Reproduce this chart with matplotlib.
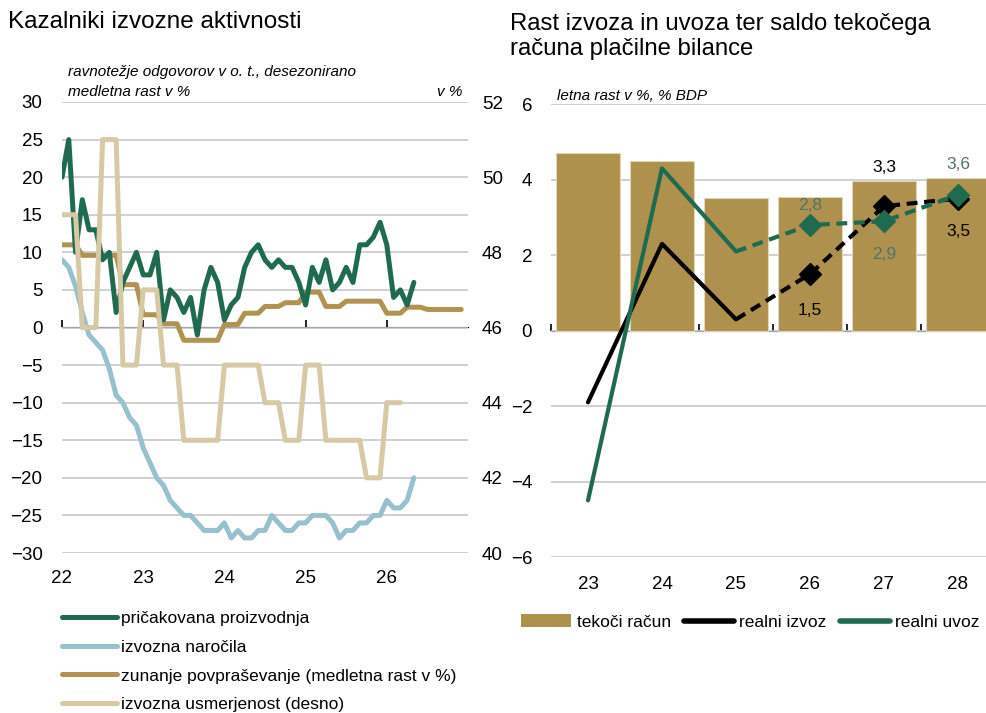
import matplotlib
matplotlib.use('Agg')
import matplotlib.pyplot as plt
from matplotlib.patches import Patch
from matplotlib.lines import Line2D
import numpy as np

plt.rcParams['font.family'] = ['Liberation Sans', 'DejaVu Sans']

# ---- levi graf: mesecni podatki od jan 2022 ----
pricakovana_proizvodnja = [20, 25, 10, 17, 13, 13, 9, 10, 2, 6, 8, 10, 7, 7, 10, 1, 5, 4, 2, 4,
                           -1, 5, 8, 6, 1, 3, 4, 8, 10, 11, 9, 8, 9, 8, 8, 6, 3, 8, 6, 9,
                           5, 6, 8, 6, 11, 11, 12, 14, 11, 4, 5, 3, 6]
izvozna_narocila = [9, 8, 5.5, 2, -1, -2, -3, -5.5, -9, -10, -12, -13, -16, -18, -20, -21, -23, -24, -25, -25,
                    -26, -27, -27, -27, -26, -28, -27, -28, -28, -27, -27, -25, -26, -27, -27, -26, -26, -25, -25, -25,
                    -26, -28, -27, -27, -26, -26, -25, -25, -23, -24, -24, -23, -20]
zunanje_povprasevanje = [11, 11, 11, 9.6, 9.6, 9.6, 9.6, 9.6, 9.6, 5.7, 5.7, 5.7, 1.7, 1.7, 1.7,
                         0.5, 0.5, 0.5, -1.7, -1.7, -1.7, -1.7, -1.7, -1.7, 0.4, 0.4, 0.4, 1.9, 1.9, 1.9,
                         2.8, 2.8, 2.8, 3.3, 3.3, 3.3, 4.7, 4.7, 4.7, 2.8, 2.8, 2.8, 3.5, 3.5, 3.5,
                         3.5, 3.5, 3.5, 1.9, 1.9, 1.9, 2.7, 2.7, 2.7, 2.4, 2.4, 2.4, 2.4, 2.4, 2.4]
izvozna_usmerjenost = [49, 49, 49, 46, 46, 46, 51, 51, 51, 45, 45, 45, 47, 47, 47, 45, 45, 45,
                       43, 43, 43, 43, 43, 43, 45, 45, 45, 45, 45, 45, 44, 44, 44, 43, 43, 43,
                       45, 45, 45, 43, 43, 43, 43, 43, 43, 42, 42, 42, 44, 44, 44]
leta_levo = [22, 23, 24, 25, 26]

# ---- desni graf: letni podatki ----
leta = [23, 24, 25, 26, 27, 28]
tekoci_racun = [4.72, 4.51, 3.52, 3.53, 3.97, 4.04]
realni_izvoz = [-1.9, 2.3, 0.3, 1.5, 3.3, 3.5]
realni_uvoz = [-4.5, 4.3, 2.1, 2.8, 2.9, 3.6]

c_green = '#1E6B4F'
c_blue = '#97C1CF'
c_brown = '#B09350'
c_beige = '#D8C9A5'
c_bar = '#AF914E'
c_grid = '#C8C8C8'
c_lab_green = '#4F7566'

W, H = 987, 713
fig = plt.figure(figsize=(9.87, 7.13), dpi=100)


def box(l, t, r, b):
    return [l / W, 1 - b / H, (r - l) / W, (b - t) / H]


def mesecno(vals):
    return 22 + np.arange(len(vals)) / 12


# ================= levi graf =================
ax = fig.add_axes(box(62, 102, 468, 553))
ax.set_xlim(22, 27)
ax.set_ylim(-30, 30)
ax.set_yticks(range(-30, 31, 5))
ax.grid(axis='y', color=c_grid, lw=1.2)
ax.set_axisbelow(True)
for s in ax.spines.values():
    s.set_visible(False)
ax.tick_params(axis='y', length=0, pad=14, labelsize=13.5)
ax.set_xticks(leta_levo)
ax.set_xticklabels([str(v) for v in leta_levo])
ax.tick_params(axis='x', length=0, pad=12, labelsize=13.5)

sec = ax.secondary_xaxis(0.5)
sec.set_xticks(leta_levo, labels=[''] * len(leta_levo))
sec.tick_params(axis='x', direction='out', length=5, width=1.2)
sec.spines['bottom'].set_linewidth(1.2)

l_brown, = ax.plot(mesecno(zunanje_povprasevanje), zunanje_povprasevanje, color=c_brown, lw=3.6,
                   solid_capstyle='round', solid_joinstyle='round', zorder=3)
l_blue, = ax.plot(mesecno(izvozna_narocila), izvozna_narocila, color=c_blue, lw=3.6,
                  solid_capstyle='round', solid_joinstyle='round', zorder=3)
l_green, = ax.plot(mesecno(pricakovana_proizvodnja), pricakovana_proizvodnja, color=c_green, lw=3.6,
                   solid_capstyle='round', solid_joinstyle='round', zorder=4)

ax2 = ax.twinx()
ax2.set_ylim(40, 52)
ax2.set_yticks(range(40, 53, 2))
for s in ax2.spines.values():
    s.set_visible(False)
ax2.tick_params(axis='y', length=0, pad=10, labelsize=13.5)
l_beige, = ax2.plot(mesecno(izvozna_usmerjenost), izvozna_usmerjenost, color=c_beige, lw=3.6,
                    solid_capstyle='round', solid_joinstyle='round')

fig.text(8 / W, 1 - 22 / H, 'Kazalniki izvozne aktivnosti', fontsize=17.5, va='center', ha='left')
fig.text(68 / W, 1 - 72 / H, 'ravnotežje odgovorov v o. t., desezonirano', style='italic',
         fontsize=11, va='center', ha='left')
fig.text(68 / W, 1 - 92 / H, 'medletna rast v %', style='italic', fontsize=11, va='center', ha='left')
fig.text(462 / W, 1 - 92 / H, 'v %', style='italic', fontsize=11, va='center', ha='right')

fig.legend([l_green, l_blue, l_brown, l_beige],
           ['pričakovana proizvodnja', 'izvozna naročila',
            'zunanje povpraševanje (medletna rast v %)', 'izvozna usmerjenost (desno)'],
           loc='upper left', bbox_to_anchor=(62 / W, 1 - 611 / H), frameon=False, fontsize=12.5,
           handlelength=3.15, handletextpad=0.25, labelspacing=0.78, borderpad=0, borderaxespad=0)

# ================= desni graf =================
axr = fig.add_axes(box(551, 104.3, 995, 557))
axr.set_xlim(22.5, 28.5)
axr.set_ylim(-6, 6)
axr.set_yticks(range(-6, 7, 2))
axr.grid(axis='y', color=c_grid, lw=1.2)
axr.set_axisbelow(True)
for s in axr.spines.values():
    s.set_visible(False)
axr.tick_params(axis='y', length=0, pad=13.5, labelsize=13.5)
axr.set_xticks(leta)
axr.set_xticklabels([str(v) for v in leta])
axr.tick_params(axis='x', length=0, pad=14, labelsize=13.5)

sec2 = axr.secondary_xaxis(0.5)
sec2.set_xticks([v - 0.5 for v in leta], labels=[''] * len(leta))
sec2.tick_params(axis='x', direction='out', length=5, width=1.2)
sec2.spines['bottom'].set_linewidth(1.2)

axr.bar(leta, tekoci_racun, width=0.87, color=c_bar, edgecolor='#E2D6BA', linewidth=0.8, zorder=2)

axr.plot(leta[:3], realni_izvoz[:3], color='black', lw=3, solid_capstyle='round', zorder=4)
axr.plot(leta[2:], realni_izvoz[2:], color='black', lw=3, ls=(0, (2.6, 1.6)), marker='D',
         markersize=11, markevery=[1, 2, 3], zorder=4)
axr.plot(leta[:3], realni_uvoz[:3], color=c_green, lw=3, solid_capstyle='round', zorder=5)
axr.plot(leta[2:], realni_uvoz[2:], color=c_green, lw=3, ls=(0, (2.6, 1.6)), marker='D',
         markersize=11, markevery=[1, 2, 3], zorder=5)

# oznake vrednosti (odmik v tockah)
odmik_izvoz = [-26, 28, -24]
odmik_uvoz = [14, -24, 22]
for i, (x, y) in enumerate(zip(leta[3:], realni_izvoz[3:])):
    axr.annotate(f'{y:.1f}'.replace('.', ','), (x, y), xytext=(0, odmik_izvoz[i]),
                 textcoords='offset points', ha='center', va='center', fontsize=12.5, color='black')
for i, (x, y) in enumerate(zip(leta[3:], realni_uvoz[3:])):
    axr.annotate(f'{y:.1f}'.replace('.', ','), (x, y), xytext=(0, odmik_uvoz[i]),
                 textcoords='offset points', ha='center', va='center', fontsize=12.5, color=c_lab_green)

fig.text(510 / W, 1 - 13 / H, 'Rast izvoza in uvoza ter saldo tekočega\nračuna plačilne bilance',
         fontsize=17.2, va='top', ha='left', linespacing=1.2)
fig.text(557 / W, 1 - 96 / H, 'letna rast v %, % BDP', style='italic', fontsize=11, va='center', ha='left')

fig.legend([Patch(facecolor=c_bar), Line2D([], [], color='black', lw=4, solid_capstyle='round'),
            Line2D([], [], color=c_green, lw=4, solid_capstyle='round')],
           ['tekoči račun', 'realni izvoz', 'realni uvoz'],
           loc='center left', bbox_to_anchor=(521 / W, 1 - 622 / H), frameon=False, fontsize=12.5, ncol=3,
           handlelength=2.9, handletextpad=0.3, columnspacing=0.75, borderpad=0, borderaxespad=0)

fig.savefig('out.png', dpi=100)
